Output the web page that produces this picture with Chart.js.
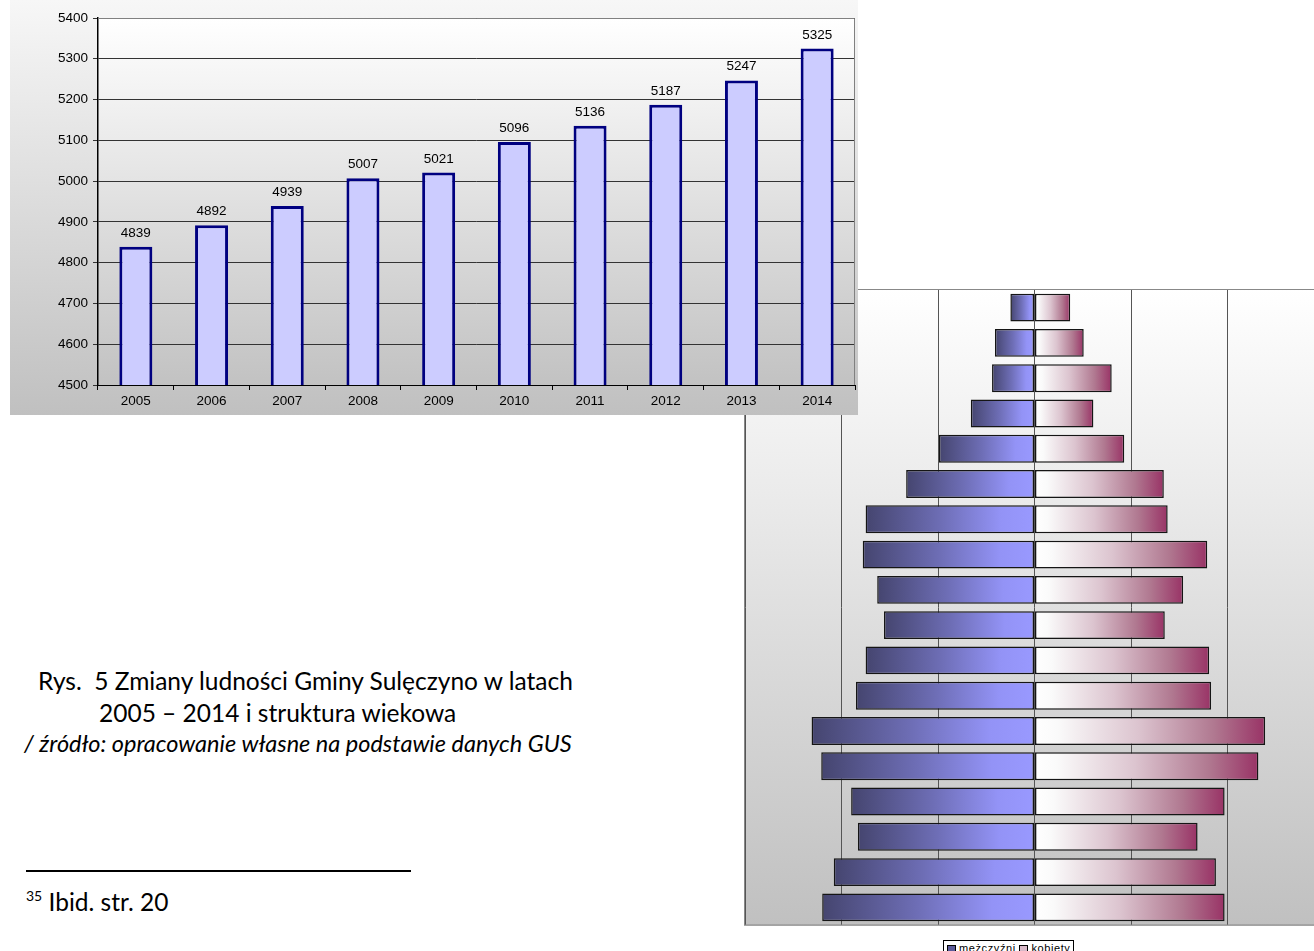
<!DOCTYPE html>
<html lang="pl">
<head>
<meta charset="utf-8">
<title>Ludność Gminy Sulęczyno</title>
<script src="https://cdn.jsdelivr.net/npm/chart.js@4.4.1/dist/chart.umd.min.js"></script>
<style>
  html, body { margin: 0; padding: 0; background: #fff; overflow: hidden; width: 1314px; height: 951px; }
  #popWrap { position: absolute; left: 10px; top: 0; width: 848px; height: 415px; z-index: 2;
             background: linear-gradient(#f7f7f7, #c0c0c0); }
  #pyrWrap { position: absolute; left: 744px; top: 289px; width: 580px; height: 637px; z-index: 1;
             background: linear-gradient(#ffffff, #c0c0c0); }
  .caption { position: absolute; font-family: Lato, "Noto Sans", sans-serif; font-size: 24.5px; line-height: 1; color: #000; white-space: nowrap; }
  #legend { position: absolute; left: 943px; top: 940px; border: 1px solid #000; background: #fff;
            font: 11px "Liberation Sans", Arial, sans-serif; letter-spacing: 0.6px; padding: 1px 3px 4px 3px; white-space: nowrap; z-index: 3; }
  #legend span.sw { display: inline-block; width: 7px; height: 6px; border: 1px solid #000; margin-right: 3px; vertical-align: -1px; }
  #footLine { position: absolute; left: 26px; top: 870px; width: 385px; height: 2px; background: #000; }
</style>
</head>
<body>
<div id="popWrap"><canvas id="popChart"></canvas></div>
<div id="pyrWrap"><canvas id="pyrChart"></canvas></div>

<div class="caption" style="left:38px; top:669px;">Rys.&nbsp; 5 Zmiany ludności Gminy Sulęczyno w latach</div>
<div class="caption" style="left:99px; top:701px;">2005 – 2014 i struktura wiekowa</div>
<div class="caption" style="left:24px; top:732px; font-style:italic; font-size:23.5px;">/ źródło: opracowanie własne na podstawie danych GUS</div>

<div id="footLine"></div>
<div class="caption" style="left:26px; top:890px;"><sup style="font-size:14px; position:relative; top:-1px;">35</sup> Ibid. str. 20</div>

<div id="legend"><span class="sw" style="background:#5a5a9a"></span>mężczyźni <span class="sw" style="background:#d8b8c8"></span>kobiety</div>

<script>
// population of the commune, 2005-2014
const years = ['2005', '2006', '2007', '2008', '2009', '2010', '2011', '2012', '2013', '2014'];
const population = [4839, 4892, 4939, 5007, 5021, 5096, 5136, 5187, 5247, 5325];
const popMin = 4500;
const popMax = 5400;
const popStep = 100;

// age structure, youngest group first
const ageGroups = ['0-4', '5-9', '10-14', '15-19', '20-24', '25-29', '30-34', '35-39', '40-44',
                   '45-49', '50-54', '55-59', '60-64', '65-69', '70-74', '75-79', '80-84', '85+'];
const men = [220, 208, 183, 190, 221, 231, 185, 175, 156, 163, 178, 175, 133, 99, 66, 44, 41, 25];
const women = [197, 188, 169, 197, 232, 239, 183, 181, 135, 154, 179, 138, 134, 93, 61, 80, 51, 37];
const pyrLimit = 300;

const axisFont = { family: '"Liberation Sans", Arial, sans-serif', size: 13.5 };

// plot-area gradient and grey frame on the right/top
const plotFrame = {
  id: 'plotFrame',
  beforeDatasetsDraw(chart) {
    const { ctx, chartArea: a } = chart;
    ctx.save();
    ctx.strokeStyle = '#808080';
    ctx.lineWidth = 1;
    ctx.beginPath();
    ctx.moveTo(a.left, a.top + 0.5);
    ctx.lineTo(a.right - 0.5, a.top + 0.5);
    ctx.lineTo(a.right - 0.5, a.bottom);
    ctx.stroke();
    ctx.restore();
  },
  beforeDraw(chart) {
    const { ctx, chartArea: a } = chart;
    const g = ctx.createLinearGradient(0, a.top, 0, a.bottom);
    g.addColorStop(0, '#ffffff');
    g.addColorStop(1, '#c2c2c2');
    ctx.save();
    ctx.fillStyle = g;
    ctx.fillRect(a.left, a.top, a.right - a.left, a.bottom - a.top);
    ctx.restore();
  }
};

// value printed above each column
const valueLabels = {
  id: 'valueLabels',
  afterDatasetsDraw(chart) {
    const { ctx } = chart;
    const meta = chart.getDatasetMeta(0);
    ctx.save();
    ctx.font = '13.5px "Liberation Sans", Arial, sans-serif';
    ctx.fillStyle = '#000';
    ctx.textAlign = 'center';
    ctx.textBaseline = 'alphabetic';
    meta.data.forEach((bar, i) => {
      ctx.fillText(String(population[i]), bar.x, bar.y - 10);
    });
    ctx.restore();
  }
};

new Chart(document.getElementById('popChart'), {
  type: 'bar',
  data: {
    labels: years,
    datasets: [{
      data: population,
      backgroundColor: '#ccccff',
      borderColor: '#000080',
      borderWidth: 3,
      borderSkipped: 'bottom',
      categoryPercentage: 1,
      barPercentage: 0.436
    }]
  },
  options: {
    responsive: true,
    maintainAspectRatio: false,
    animation: false,
    layout: { padding: { top: 18, right: 3, left: 0, bottom: 0 } },
    plugins: { legend: { display: false }, tooltip: { enabled: false } },
    scales: {
      x: {
        afterFit(scale) { scale.height = 30; },
        border: { color: '#000', width: 1 },
        grid: { offset: true, drawOnChartArea: false, drawTicks: true, tickLength: 5, color: '#000' },
        ticks: { font: axisFont, color: '#000', padding: 3 }
      },
      y: {
        min: popMin,
        max: popMax,
        afterFit(scale) { scale.width = 88; },
        border: { color: '#000', width: 1.5 },
        grid: { color: '#333', lineWidth: 1, tickLength: 5 },
        ticks: { stepSize: popStep, font: axisFont, color: '#000', padding: 5, callback: v => String(v) }
      }
    }
  },
  plugins: [plotFrame, valueLabels]
});

// gradients run across each bar: dark at the outer end for men, white at the centre for women
function menFill(context) {
  const { chart, parsed } = context;
  if (!chart.chartArea || !parsed) return '#7777cc';
  const x = chart.scales.x;
  const g = chart.ctx.createLinearGradient(x.getPixelForValue(parsed.x), 0, x.getPixelForValue(0), 0);
  g.addColorStop(0, '#45456f');
  g.addColorStop(0.45, '#6e6eb6');
  g.addColorStop(0.8, '#9393f6');
  g.addColorStop(1, '#9999ff');
  return g;
}

function womenFill(context) {
  const { chart, parsed } = context;
  if (!chart.chartArea || !parsed) return '#cc99aa';
  const x = chart.scales.x;
  const g = chart.ctx.createLinearGradient(x.getPixelForValue(0), 0, x.getPixelForValue(parsed.x), 0);
  g.addColorStop(0, '#ffffff');
  g.addColorStop(0.1, '#fafafa');
  g.addColorStop(0.45, '#dcc4cf');
  g.addColorStop(0.78, '#b07890');
  g.addColorStop(1, '#993366');
  return g;
}

const pyrFrame = {
  id: 'pyrFrame',
  afterDraw(chart) {
    const { ctx, chartArea: a } = chart;
    ctx.save();
    ctx.strokeStyle = '#888';
    ctx.lineWidth = 1;
    ctx.strokeRect(0.5, 0.5, chart.width + 10, a.bottom - 0.5);
    ctx.restore();
  }
};

new Chart(document.getElementById('pyrChart'), {
  type: 'bar',
  data: {
    labels: ageGroups,
    datasets: [
      { label: 'mężczyźni', data: men.map(v => -v), backgroundColor: menFill },
      { label: 'kobiety', data: women, backgroundColor: womenFill }
    ]
  },
  options: {
    indexAxis: 'y',
    responsive: true,
    maintainAspectRatio: false,
    animation: false,
    layout: { padding: { top: 1, right: 0, left: 1, bottom: 1 } },
    datasets: {
      bar: {
        borderColor: '#151515',
        borderWidth: 1.5,
        borderSkipped: false,
        categoryPercentage: 1,
        barPercentage: 0.79
      }
    },
    plugins: { legend: { display: false }, tooltip: { enabled: false } },
    scales: {
      x: {
        stacked: true,
        min: -pyrLimit,
        max: pyrLimit,
        afterFit(scale) { scale.height = 0; },
        border: { display: false },
        grid: { color: '#555', lineWidth: 1, drawTicks: false },
        ticks: { display: false, stepSize: 100 }
      },
      y: {
        stacked: true,
        reverse: true,
        afterFit(scale) { scale.width = 0; },
        border: { display: false },
        grid: { display: false },
        ticks: { display: false }
      }
    }
  },
  plugins: [pyrFrame]
});
</script>
</body>
</html>
